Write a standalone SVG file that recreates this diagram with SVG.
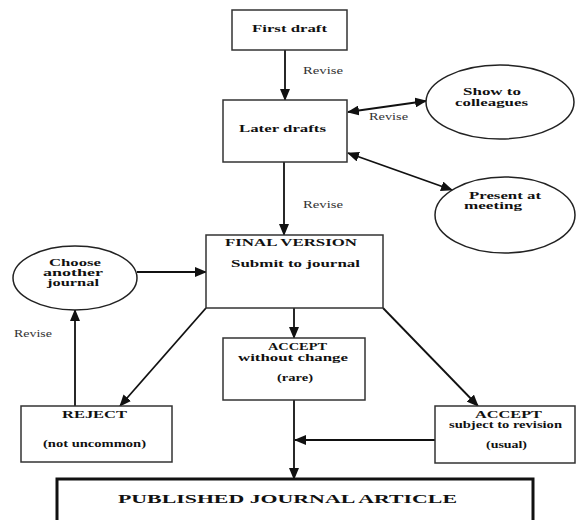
<svg xmlns="http://www.w3.org/2000/svg" width="576" height="520" viewBox="0 0 576 520">
<defs>
<marker id="ah" markerUnits="userSpaceOnUse" markerWidth="12" markerHeight="10" refX="11" refY="5" orient="auto-start-reverse">
<path d="M0,0 L12,5 L0,10 Z" fill="#111"/>
</marker>
<style>
.box{fill:#fff;stroke:#333;stroke-width:1.5}
.ell{fill:#fff;stroke:#222;stroke-width:1.5}
.t{font-family:"Liberation Serif","Times New Roman",serif;font-weight:bold;font-size:11px;fill:#111;text-anchor:start}
.s{font-size:9.5px}
.r{font-family:"Liberation Serif","Times New Roman",serif;font-size:10px;fill:#333}
.c{stroke:#111;stroke-width:1.8;fill:none}
</style>
</defs>
<rect width="576" height="520" fill="#fff"/>
<g id="connectors">
<line class="c" x1="285" y1="50" x2="285" y2="100" marker-end="url(#ah)"/>
<line class="c" x1="348" y1="112" x2="426" y2="101" marker-start="url(#ah)" marker-end="url(#ah)"/>
<line class="c" x1="348" y1="153" x2="452" y2="190" marker-start="url(#ah)" marker-end="url(#ah)"/>
<line class="c" x1="284" y1="162" x2="284" y2="235" marker-end="url(#ah)"/>
<line class="c" x1="137" y1="272" x2="206" y2="272" marker-end="url(#ah)"/>
<line class="c" x1="206" y1="308" x2="120" y2="406" marker-end="url(#ah)"/>
<line class="c" x1="75" y1="406" x2="75" y2="310" marker-end="url(#ah)"/>
<line class="c" x1="294" y1="308" x2="294" y2="338" marker-end="url(#ah)"/>
<line class="c" x1="383" y1="308" x2="478" y2="406" marker-end="url(#ah)"/>
<line class="c" x1="435" y1="440" x2="295" y2="440" marker-end="url(#ah)"/>
<line class="c" x1="294" y1="400" x2="294" y2="479" marker-end="url(#ah)"/>
<text class="r" x="303" y="74" textLength="40" lengthAdjust="spacingAndGlyphs">Revise</text>
<text class="r" x="369" y="120" textLength="39" lengthAdjust="spacingAndGlyphs">Revise</text>
<text class="r" x="303" y="208" textLength="40" lengthAdjust="spacingAndGlyphs">Revise</text>
<text class="r" x="14" y="337" textLength="38" lengthAdjust="spacingAndGlyphs">Revise</text>
</g>
<g id="first-draft">
<rect class="box" x="232" y="10" width="115" height="40"/>
<text class="t" x="252" y="32" textLength="75" lengthAdjust="spacingAndGlyphs">First draft</text>
</g>
<g id="later-drafts">
<rect class="box" x="223" y="100" width="124" height="62"/>
<text class="t" x="239" y="132" textLength="87" lengthAdjust="spacingAndGlyphs">Later drafts</text>
</g>
<g id="show-colleagues">
<ellipse class="ell" cx="500" cy="102" rx="74" ry="37"/>
<text class="t s" x="463" y="95" textLength="58" lengthAdjust="spacingAndGlyphs">Show to</text>
<text class="t s" x="455" y="106" textLength="73" lengthAdjust="spacingAndGlyphs">colleagues</text>
</g>
<g id="present-meeting">
<ellipse class="ell" cx="505" cy="215" rx="70" ry="38"/>
<text class="t s" x="469" y="199" textLength="72" lengthAdjust="spacingAndGlyphs">Present at</text>
<text class="t s" x="464" y="209" textLength="58" lengthAdjust="spacingAndGlyphs">meeting</text>
</g>
<g id="final-version">
<rect class="box" x="206" y="235" width="177" height="73"/>
<text class="t" x="225" y="246" textLength="132" lengthAdjust="spacingAndGlyphs">FINAL VERSION</text>
<text class="t" x="231" y="267" textLength="129" lengthAdjust="spacingAndGlyphs">Submit to journal</text>
</g>
<g id="choose-journal">
<ellipse class="ell" cx="75" cy="278" rx="62" ry="32"/>
<text class="t s" x="49" y="266" textLength="52" lengthAdjust="spacingAndGlyphs">Choose</text>
<text class="t s" x="43" y="276" textLength="60" lengthAdjust="spacingAndGlyphs">another</text>
<text class="t s" x="47" y="286" textLength="52" lengthAdjust="spacingAndGlyphs">journal</text>
</g>
<g id="accept-without">
<rect class="box" x="223" y="338" width="142" height="62"/>
<text class="t s" x="268" y="350" textLength="59" lengthAdjust="spacingAndGlyphs">ACCEPT</text>
<text class="t s" x="238" y="361" textLength="110" lengthAdjust="spacingAndGlyphs">without change</text>
<text class="t s" x="277" y="381" textLength="36" lengthAdjust="spacingAndGlyphs">(rare)</text>
</g>
<g id="accept-subject">
<rect class="box" x="435" y="406" width="140" height="57"/>
<text class="t s" x="475" y="418" textLength="67" lengthAdjust="spacingAndGlyphs">ACCEPT</text>
<text class="t s" x="449" y="428" textLength="113" lengthAdjust="spacingAndGlyphs">subject to revision</text>
<text class="t s" x="486" y="448" textLength="41" lengthAdjust="spacingAndGlyphs">(usual)</text>
</g>
<g id="reject">
<rect class="box" x="21" y="406" width="151" height="56"/>
<text class="t" x="62" y="418" textLength="65" lengthAdjust="spacingAndGlyphs">REJECT</text>
<text class="t" x="43" y="447" textLength="103" lengthAdjust="spacingAndGlyphs">(not uncommon)</text>
</g>
<g id="published">
<rect x="57" y="479" width="476" height="60" fill="#fff" stroke="#111" stroke-width="3"/>
<text class="t" x="118" y="503" style="font-size:13px" textLength="339" lengthAdjust="spacingAndGlyphs">PUBLISHED JOURNAL ARTICLE</text>
</g>
</svg>
